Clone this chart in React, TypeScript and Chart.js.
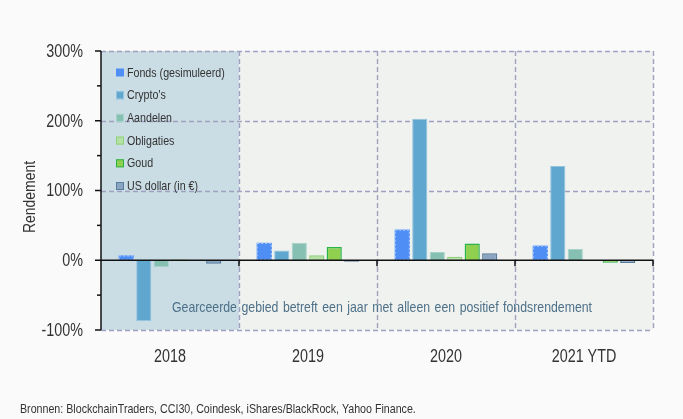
import { useEffect, useRef } from 'react';
import { Chart, registerables } from 'chart.js';

Chart.register(...registerables);

const categories = ['2018', '2019', '2020', '2021 YTD'];
const seriesNames = ['Fonds (gesimuleerd)', "Crypto's", 'Aandelen', 'Obligaties', 'Goud', 'US dollar (in €)'];
const fonds = [7, 25, 44, 21];
const crypto = [-87, 14, 203, 135];
const aandelen = [-10, 25, 12, 16];
const obligaties = [1.5, 7, 5, -0.5];
const goud = [-1, 19, 24, -3.5];
const usDollar = [-5, -2, 10, -4];
const yMin = -100;
const yMax = 300;
const yMajorStep = 100;
const yMinorStep = 50;
const yAxisTitle = 'Rendement';
const shadedCategoryIndex = 0;
const annotationText = 'Gearceerde gebied betreft een jaar met alleen een positief fondsrendement';
const sourceText = 'Bronnen: BlockchainTraders, CCI30, Coindesk, iShares/BlackRock, Yahoo Finance.';

const FONT = "'Liberation Sans', Arial, sans-serif";
const NARROW = 0.82;

const fills = ['#4f8ff5', '#5fa7cf', '#86c0b3', '#b6e0a4', '#8fd14f', '#8aa5c1'];
const borders = ['#a8c8ff', '#92c4e0', '#a6d3c9', '#8fd27c', '#2bb24b', '#5a7d9e'];
const borderWidths = [0, 1, 1, 1.5, 1.5, 1.5];
const seriesValues = [fonds, crypto, aandelen, obligaties, goud, usDollar];

function narrowText(ctx: CanvasRenderingContext2D, text: string, x: number, y: number, size: number, color: string, align: CanvasTextAlign = 'left', baseline: CanvasTextBaseline = 'alphabetic') {
  ctx.save();
  ctx.font = `${size}px ${FONT}`;
  ctx.fillStyle = color;
  ctx.textAlign = align;
  ctx.textBaseline = baseline;
  ctx.translate(x, y);
  ctx.scale(NARROW, 1);
  ctx.fillText(text, 0, 0);
  ctx.restore();
}

function narrowWidth(ctx: CanvasRenderingContext2D, text: string, size: number) {
  ctx.save();
  ctx.font = `${size}px ${FONT}`;
  const w = ctx.measureText(text).width * NARROW;
  ctx.restore();
  return w;
}

const decorPlugin = {
  id: 'decor',
  beforeDraw(chart: any) {
    const { ctx, chartArea: a, scales } = chart;
    const x = scales.x;
    ctx.save();
    ctx.fillStyle = '#fafafa';
    ctx.fillRect(0, 0, chart.width, chart.height);
    ctx.fillStyle = '#f0f2ef';
    ctx.fillRect(a.left, a.top, a.right - a.left, a.bottom - a.top);
    const step = x.getPixelForValue(1) - x.getPixelForValue(0);
    const b0 = x.getPixelForValue(shadedCategoryIndex) - step / 2;
    ctx.fillStyle = '#cadde5';
    ctx.fillRect(b0, a.top, step, a.bottom - a.top);
    ctx.restore();
  },
  beforeDatasetsDraw(chart: any) {
    const { ctx, chartArea: a, scales } = chart;
    const x = scales.x;
    const y = scales.y;
    ctx.save();
    ctx.strokeStyle = '#a0a0c0';
    ctx.lineWidth = 1.4;
    ctx.setLineDash([5, 3]);
    for (let v = yMin; v <= yMax; v += yMajorStep) {
      if (v === 0) continue;
      const py = Math.round(y.getPixelForValue(v)) + 0.5;
      ctx.beginPath();
      ctx.moveTo(a.left, py);
      ctx.lineTo(a.right, py);
      ctx.stroke();
    }
    const step = x.getPixelForValue(1) - x.getPixelForValue(0);
    for (let i = 0; i < categories.length; i++) {
      const px = Math.round(x.getPixelForValue(i) + step / 2) + 0.5;
      ctx.beginPath();
      ctx.moveTo(px, a.top);
      ctx.lineTo(px, a.bottom);
      ctx.stroke();
    }
    ctx.restore();
  },
  afterDatasetsDraw(chart: any) {
    const { ctx, chartArea: a, scales } = chart;
    const x = scales.x;
    const y = scales.y;
    ctx.save();
    // dashed outline for simulated fund bars
    const meta = chart.getDatasetMeta(0);
    ctx.strokeStyle = borders[0];
    ctx.lineWidth = 1.2;
    ctx.setLineDash([2, 2]);
    meta.data.forEach((bar: any) => {
      const p = bar.getProps(['x', 'y', 'base', 'width'], true);
      const left = p.x - p.width / 2 + 0.5;
      const top = Math.min(p.y, p.base) + 0.5;
      ctx.strokeRect(left, top, p.width - 1, Math.abs(p.base - p.y) - 1);
    });
    ctx.setLineDash([]);

    // zero line and left axis
    ctx.strokeStyle = '#111';
    ctx.lineWidth = 1.5;
    const zy = y.getPixelForValue(0);
    ctx.beginPath();
    ctx.moveTo(a.left, zy);
    ctx.lineTo(a.right, zy);
    ctx.stroke();
    const step = x.getPixelForValue(1) - x.getPixelForValue(0);
    for (let i = 0; i < categories.length; i++) {
      const px = x.getPixelForValue(i) + step / 2;
      ctx.beginPath();
      ctx.moveTo(px, zy);
      ctx.lineTo(px, zy + 6);
      ctx.stroke();
    }
    ctx.beginPath();
    ctx.moveTo(a.left, a.top);
    ctx.lineTo(a.left, a.bottom);
    ctx.stroke();
    for (let v = yMin; v <= yMax; v += yMinorStep) {
      const py = y.getPixelForValue(v);
      const len = v % yMajorStep === 0 ? 6 : 4;
      ctx.beginPath();
      ctx.moveTo(a.left - len, py);
      ctx.lineTo(a.left, py);
      ctx.stroke();
    }

    // tick labels from the scales
    y.ticks.forEach((t: any) => {
      if (t.value % yMajorStep !== 0) return;
      narrowText(ctx, `${t.value}%`, 83, y.getPixelForValue(t.value) + 1, 17.5, '#333', 'right', 'middle');
    });
    x.ticks.forEach((t: any, i: number) => {
      narrowText(ctx, String(chart.data.labels[t.value]), x.getPixelForValue(i), 362, 17.5, '#333', 'center', 'alphabetic');
    });

    // legend
    chart.data.datasets.forEach((ds: any, i: number) => {
      const cy = a.top + 21.5 + i * 22.7;
      const bx = a.left + 15;
      ctx.fillStyle = fills[i];
      ctx.fillRect(bx, cy - 4, 8, 8);
      if (i > 0) {
        ctx.strokeStyle = borders[i];
        ctx.lineWidth = 1;
        ctx.strokeRect(bx + 0.5, cy - 3.5, 7, 7);
      }
      narrowText(ctx, ds.label, bx + 11, cy + 0.5, 13, '#333', 'left', 'middle');
    });

    // annotation, spread over the given width
    const words = annotationText.split(' ');
    const startX = 172;
    const endX = 592;
    const widths = words.map((w) => narrowWidth(ctx, w, 15));
    const total = widths.reduce((s, w) => s + w, 0);
    const gap = (endX - startX - total) / (words.length - 1);
    let cx = startX;
    words.forEach((w, i) => {
      narrowText(ctx, w, cx, 311.5, 15, '#4d7088');
      cx += widths[i] + gap;
    });

    // y axis title
    ctx.save();
    ctx.translate(30, 197);
    ctx.rotate(-Math.PI / 2);
    narrowText(ctx, yAxisTitle, 0, 0, 17, '#333', 'center', 'middle');
    ctx.restore();

    // source
    narrowText(ctx, sourceText, 20, 413, 13, '#333');
    ctx.restore();
  },
};

export default function App() {
  const ref = useRef<HTMLCanvasElement>(null);
  useEffect(() => {
    if (!ref.current) return;
    const chart = new Chart(ref.current, {
      type: 'bar',
      data: {
        labels: categories,
        datasets: seriesNames.map((name, i) => ({
          label: name,
          data: seriesValues[i],
          backgroundColor: fills[i],
          borderColor: borders[i],
          borderWidth: borderWidths[i],
          barPercentage: 0.87,
          categoryPercentage: 0.76,
        })),
      },
      options: {
        responsive: false,
        animation: false,
        layout: { padding: { left: 0, top: 51, right: 30, bottom: 0 } },
        plugins: { legend: { display: false }, tooltip: { enabled: false } },
        scales: {
          x: {
            grid: { display: false, drawTicks: false },
            border: { display: false },
            ticks: { display: false },
            afterFit: (s: any) => { s.height = 89; },
          },
          y: {
            min: yMin,
            max: yMax,
            grid: { display: false, drawTicks: false },
            border: { display: false },
            ticks: { display: false, stepSize: yMinorStep },
            afterFit: (s: any) => { s.width = 101; },
          },
        },
      },
      plugins: [decorPlugin],
    });
    return () => chart.destroy();
  }, []);
  return (
    <div style={{ position: 'fixed', left: 0, top: 0, width: 683, height: 419, background: '#fafafa' }}>
      <canvas ref={ref} width={683} height={419} />
    </div>
  );
}
